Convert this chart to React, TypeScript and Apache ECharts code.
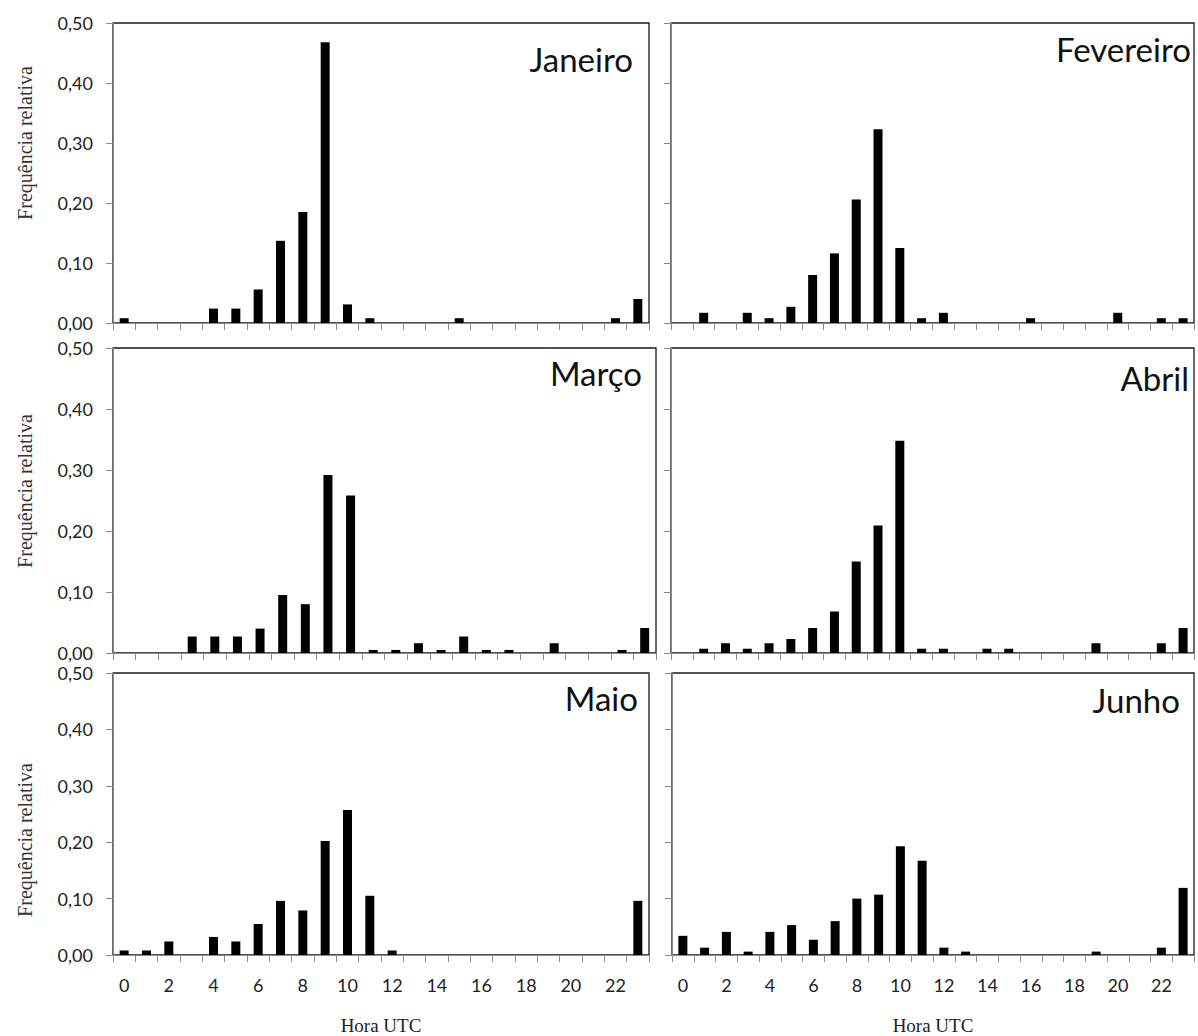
import React, { useEffect, useRef } from "react";
import * as echarts from "echarts";

const hours = ["0","1","2","3","4","5","6","7","8","9","10","11","12","13","14","15","16","17","18","19","20","21","22","23"];
const yTicks = [0, 0.1, 0.2, 0.3, 0.4, 0.5];

const janeiro = [0.008,0,0,0,0.024,0.024,0.056,0.137,0.185,0.468,0.031,0.008,0,0,0,0.008,0,0,0,0,0,0,0.008,0.040];
const fevereiro = [0,0.017,0,0.017,0.008,0.027,0.080,0.116,0.206,0.323,0.125,0.008,0.017,0,0,0,0.008,0,0,0,0.017,0,0.008,0.008];
const marco = [0,0,0,0.027,0.027,0.027,0.040,0.095,0.080,0.292,0.258,0.005,0.005,0.016,0.005,0.027,0.005,0.005,0,0.016,0,0,0.005,0.041];
const abril = [0,0.007,0.016,0.007,0.016,0.023,0.041,0.068,0.150,0.209,0.348,0.007,0.007,0,0.007,0.007,0,0,0,0.016,0,0,0.016,0.041];
const maio = [0.008,0.008,0.024,0,0.032,0.024,0.055,0.096,0.079,0.202,0.257,0.105,0.008,0,0,0,0,0,0,0,0,0,0,0.096];
const junho = [0.034,0.013,0.041,0.006,0.041,0.053,0.027,0.060,0.100,0.107,0.193,0.167,0.013,0.006,0,0,0,0,0,0.006,0,0,0.013,0.119];

const months = ["Janeiro", "Fevereiro", "Março", "Abril", "Maio", "Junho"];
const monthData = [janeiro, fevereiro, marco, abril, maio, junho];
const yTitle = "Frequência relativa";
const xTitle = "Hora UTC";

// layout (pixels)
const grids = [
  { left: 113, top: 23, width: 536, height: 300 },
  { left: 671, top: 23, width: 523, height: 300 },
  { left: 113, top: 348, width: 543, height: 305 },
  { left: 671, top: 348, width: 523, height: 305 },
  { left: 113, top: 673, width: 536, height: 293 },
  { left: 672, top: 673, width: 522, height: 293 },
];
const monthPos = [
  [633, 59], [1191, 49], [642, 373], [1189, 378], [638, 698], [1180, 700],
];
const yTitlePos = [143, 491, 840];

const sans = "Lato, 'Open Sans', sans-serif";
const serif = "'Liberation Serif', 'DejaVu Serif', serif";

export default function App() {
  const ref = useRef<HTMLDivElement>(null);
  useEffect(() => {
    document.body.style.margin = "0";
    const chart = echarts.init(ref.current!, null, { renderer: "svg" });
    const fmt = (v: number) => v.toFixed(2).replace(".", ",");
    const option: any = {
      animation: false,
      backgroundColor: "#ffffff",
      grid: grids.map((g) => ({
        ...g,
        show: true,
        borderColor: "#1a1a1a",
        borderWidth: 1.3,
        backgroundColor: "transparent",
        containLabel: false,
      })),
      xAxis: grids.map((_, i) => ({
        type: "category",
        gridIndex: i,
        data: hours,
        boundaryGap: true,
        name: i >= 4 ? xTitle : "",
        nameLocation: "middle",
        nameGap: 61,
        nameTextStyle: { fontFamily: serif, fontSize: 19, color: "#222" },
        axisLine: { show: true, lineStyle: { color: "#8a8a8a", width: 1 } },
        axisTick: { show: true, interval: 0, length: 7, inside: false, lineStyle: { color: "#8a8a8a" } },
        axisLabel: {
          show: i >= 4,
          interval: 1,
          margin: 21,
          fontFamily: sans,
          fontSize: 18,
          color: "#222",
        },
        splitLine: { show: false },
      })),
      yAxis: grids.map((_, i) => ({
        type: "value",
        gridIndex: i,
        min: yTicks[0],
        max: yTicks[yTicks.length - 1],
        interval: 0.1,
        axisLine: { show: true, lineStyle: { color: "#8a8a8a", width: 1 } },
        axisTick: { show: true, length: 7, inside: false, lineStyle: { color: "#8a8a8a" } },
        axisLabel: {
          show: i % 2 === 0,
          margin: 20,
          fontFamily: sans,
          fontSize: 18,
          color: "#222",
          formatter: fmt,
        },
        splitLine: { show: false },
      })),
      series: monthData.map((d, i) => ({
        type: "bar",
        name: months[i],
        xAxisIndex: i,
        yAxisIndex: i,
        data: d,
        barWidth: 9,
        itemStyle: { color: "#000" },
      })),
      graphic: [
        ...months.map((m, i) => ({
          type: "text",
          x: monthPos[i][0],
          y: monthPos[i][1],
          style: {
            text: m,
            fontFamily: sans,
            fontSize: 33,
            fill: "#111",
            textAlign: "right",
            textVerticalAlign: "middle",
          },
        })),
        ...yTitlePos.map((y) => ({
          type: "text",
          x: 25,
          y,
          rotation: Math.PI / 2,
          style: {
            text: yTitle,
            fontFamily: serif,
            fontSize: 20,
            fill: "#333",
            textAlign: "center",
            textVerticalAlign: "middle",
          },
        })),
      ],
    };
    chart.setOption(option);
    return () => chart.dispose();
  }, []);
  return <div ref={ref} style={{ width: 1198, height: 1036 }} />;
}
